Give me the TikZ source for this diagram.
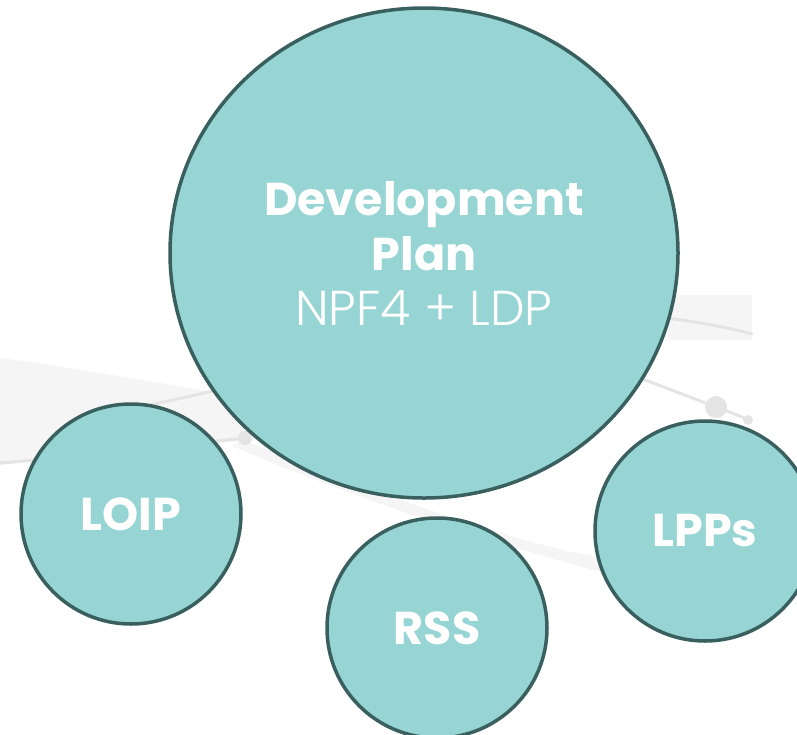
\documentclass[tikz,border=0pt]{standalone}
\usepackage{fontspec}
\setmainfont{Poppins}
\newfontfamily\thinfont{Poppins Light}
\usetikzlibrary{shapes.geometric}
\definecolor{bubblefill}{HTML}{97D5D5}
\definecolor{bubbleedge}{HTML}{3A5F5F}
\definecolor{swooshfill}{HTML}{F5F5F5}
\definecolor{swooshline}{HTML}{E4E4E4}
\begin{document}
\begin{tikzpicture}[x=1pt,y=-1pt,
  bubble/.style={circle,draw=bubbleedge,line width=3.5pt,fill=bubblefill,
    text=white,inner sep=0pt,minimum size=220pt,align=center,
    font=\bfseries\fontsize{46}{55}\selectfont},
  swoosh/.style={fill=swooshfill},
  swline/.style={draw=swooshline,line width=3pt,line cap=round}]
\useasboundingbox (0,0) rectangle (797,734);
\clip (0,0) rectangle (797,734);
% faint background
\fill[swoosh] (0,358) .. controls (90,370) and (170,385) .. (260,400) -- (260,440) .. controls (170,445) and (80,455) .. (0,465) -- cycle;
\fill[swoosh] (232,446) -- (242,440) .. controls (400,500) and (500,540) .. (612,560) -- (612,575) .. controls (480,540) and (360,500) .. cycle;
\fill[swoosh] (668,295) rectangle (752,340);
\draw[swline] (0,463) .. controls (100,455) and (180,445) .. (245,438);
\draw[swline] (150,405) -- (240,385);
\draw[swline] (665,318) .. controls (700,322) and (730,328) .. (752,334);
\draw[swline] (640,378) -- (716,407) -- (750,420);
\fill[swooshline] (245,438) circle (7);
\fill[swooshline] (716,407) circle (11);
\fill[swooshline] (748,420) circle (5);
% bubbles
\node[bubble,ellipse,minimum width=508pt,minimum height=490pt] (plan) at (424,253)
  {Development\\Plan\\{\thinfont\mdseries\fontsize{49}{55}\selectfont NPF4 + LDP}};
\node[bubble] (loip) at (131,514) {LOIP};
\node[bubble] (rss) at (437,628) {RSS};
\node[bubble] (lpps) at (705,531) {LPPs};
\end{tikzpicture}
\end{document}
